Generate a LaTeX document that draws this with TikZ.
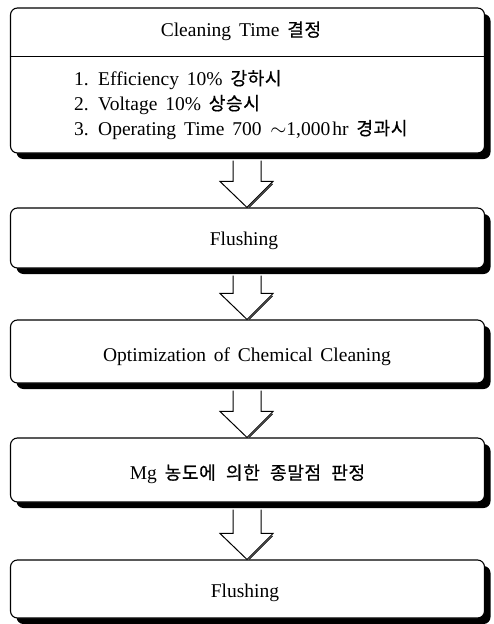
\documentclass[tikz,border=0pt]{standalone}
\usepackage{fontspec}
\setmainfont{Liberation Serif}[WordSpace=1.6]
\newfontfamily\kr{Noto Sans CJK KR}[Scale=0.93, FakeBold=0.5, WordSpace=2.2, LetterSpace=3]
\usetikzlibrary{calc,shadows}
\tikzset{
  flowbox/.style={draw, line width=1.1pt, rounded corners=7pt, fill=white,
    minimum width=474pt, inner sep=0pt,
    general shadow={fill=black, shadow xshift=6pt, shadow yshift=-6pt}},
  txt/.style={font=\fontsize{19.5}{22}\selectfont, inner sep=0pt},
  arrowline/.style={draw, line width=1pt, fill=white, line join=miter},
}
\newcommand\flowarrow[2]{%
  \path let \p1=(#1.south), \p2=(#2.north) in
    coordinate (#1t) at (\x1-0.5, \y1-7)
    coordinate (#1tip) at (\x1-0.5, \y2);
  \draw[arrowline] let \p1=(#1t), \p2=(#1tip) in
    (\x1-14,\y1) -- (\x1-14,\y2+26) -- (\x1-27,\y2+26) -- (\x2,\y2)
    -- (\x1+26,\y2+26) -- (\x1+14,\y2+26) -- (\x1+14,\y1);
  \draw[line width=0.8pt] let \p2=(#1tip) in
    (\x2+2.2,\y2+0.2) -- (\x2+25.5,\y2+23.5);
}
\begin{document}
\begin{tikzpicture}[x=1pt,y=-1pt]
\useasboundingbox (0,0) rectangle (493,624);
\node[flowbox, minimum height=145pt] (b1) at (247.5,80.5) {};
\draw[line width=0.9pt] (b1.west |- 0,56) -- (b1.east |- 0,56);
\node[txt] (t1) at (241,31) {Cleaning Time {\kr 결정}};
\node[txt, anchor=base west, align=left] (l1) at (74,85) {1. Efficiency 10\% {\kr 강하시}};
\node[txt, anchor=base west] (l2) at (74,110) {2. Voltage 10\% {\kr 상승시}};
\node[txt, anchor=base west] (l3) at (74,135) {3. Operating Time 700 \kern1pt$\sim$1,000\kern2pt hr {\kr 경과시}};

\node[flowbox, minimum height=60pt] (b2) at (247.5,238) {};
\node[txt] (t2) at (244,241) {Flushing};

\node[flowbox, minimum height=63pt] (b3) at (247.5,351.5) {};
\node[txt] (t3) at (247,357) {Optimization of Chemical Cleaning};

\node[flowbox, minimum height=64pt] (b4) at (247.5,470) {};
\node[txt] (t4) at (247.5,474) {Mg {\kr 농도에 의한 종말점 판정}};

\node[flowbox, minimum height=58pt] (b5) at (247.5,589) {};
\node[txt] (t5) at (245,593) {Flushing};

\flowarrow{b1}{b2}
\flowarrow{b2}{b3}
\flowarrow{b3}{b4}
\flowarrow{b4}{b5}
\end{tikzpicture}
\end{document}
